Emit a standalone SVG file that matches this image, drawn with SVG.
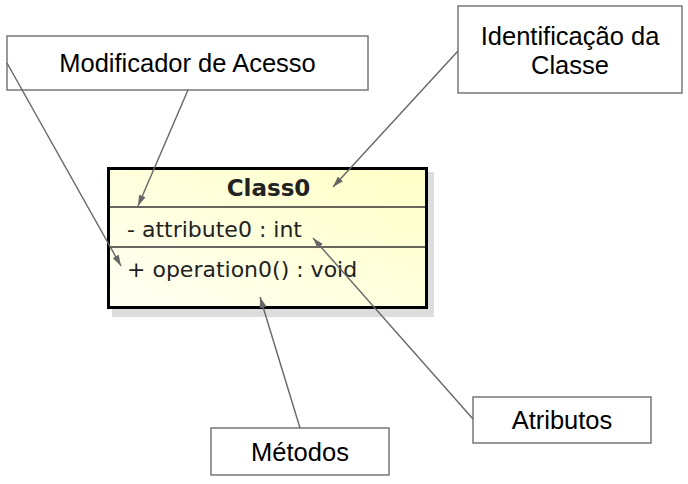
<svg xmlns="http://www.w3.org/2000/svg" width="688" height="484" viewBox="0 0 688 484">
<style>
.lbl{fill:#fff;stroke:#6e6e6e;stroke-width:1.4}
.lt{font-family:"Liberation Sans",Arial,sans-serif;font-size:25.5px;fill:#000;text-anchor:middle}
.ct{font-family:"DejaVu Sans",sans-serif;font-size:22px;fill:#222}
.con{stroke:#666;stroke-width:1.4;fill:none;marker-end:url(#ah)}
</style>
<defs>
<linearGradient id="g" x1="0" y1="1" x2="1" y2="0">
<stop offset="0" stop-color="#fffff4"/>
<stop offset="1" stop-color="#ffffc6"/>
</linearGradient>
<marker id="ah" markerWidth="12" markerHeight="8" refX="11" refY="4" orient="auto" markerUnits="userSpaceOnUse">
<path d="M0,0.5 L11,4 L0,7.5 Z" fill="#666"/>
</marker>
</defs>
<g id="class0">
<rect x="112" y="172" width="322" height="145" fill="#d4d4d4" opacity="0.8"/>
<rect x="108.5" y="168.5" width="318" height="139" fill="url(#g)" stroke="#000" stroke-width="3"/>
<line x1="110" y1="207" x2="425" y2="207" stroke="#333" stroke-width="1.5"/>
<line x1="110" y1="247" x2="425" y2="247" stroke="#333" stroke-width="1.5"/>
<text x="268.5" y="196" font-family="DejaVu Sans,sans-serif" font-weight="bold" font-size="23" fill="#222" text-anchor="middle">Class0</text>
<text class="ct" x="127" y="237">- attribute0 : int</text>
<text class="ct" x="127" y="277">+ operation0() : void</text>
</g>
<g id="modificador">
<rect class="lbl" x="7" y="36" width="361" height="54"/>
<text class="lt" x="187.5" y="72">Modificador de Acesso</text>
</g>
<g id="identificacao">
<rect class="lbl" x="458" y="6" width="224" height="87"/>
<text class="lt" x="570" y="45">Identificação da</text>
<text class="lt" x="570" y="74">Classe</text>
</g>
<g id="metodos">
<rect class="lbl" x="211" y="428" width="178" height="47"/>
<text class="lt" x="300" y="461">Métodos</text>
</g>
<g id="atributos">
<rect class="lbl" x="473" y="397" width="178" height="46"/>
<text class="lt" x="562" y="429">Atributos</text>
</g>
<g id="connectors">
<line class="con" x1="188" y1="90" x2="138" y2="206"/>
<line class="con" x1="7" y1="63" x2="121" y2="266"/>
<line class="con" x1="458" y1="51" x2="333" y2="187"/>
<line class="con" x1="473" y1="419" x2="313" y2="238"/>
<line class="con" x1="300" y1="428" x2="260" y2="297"/>
</g>
</svg>
